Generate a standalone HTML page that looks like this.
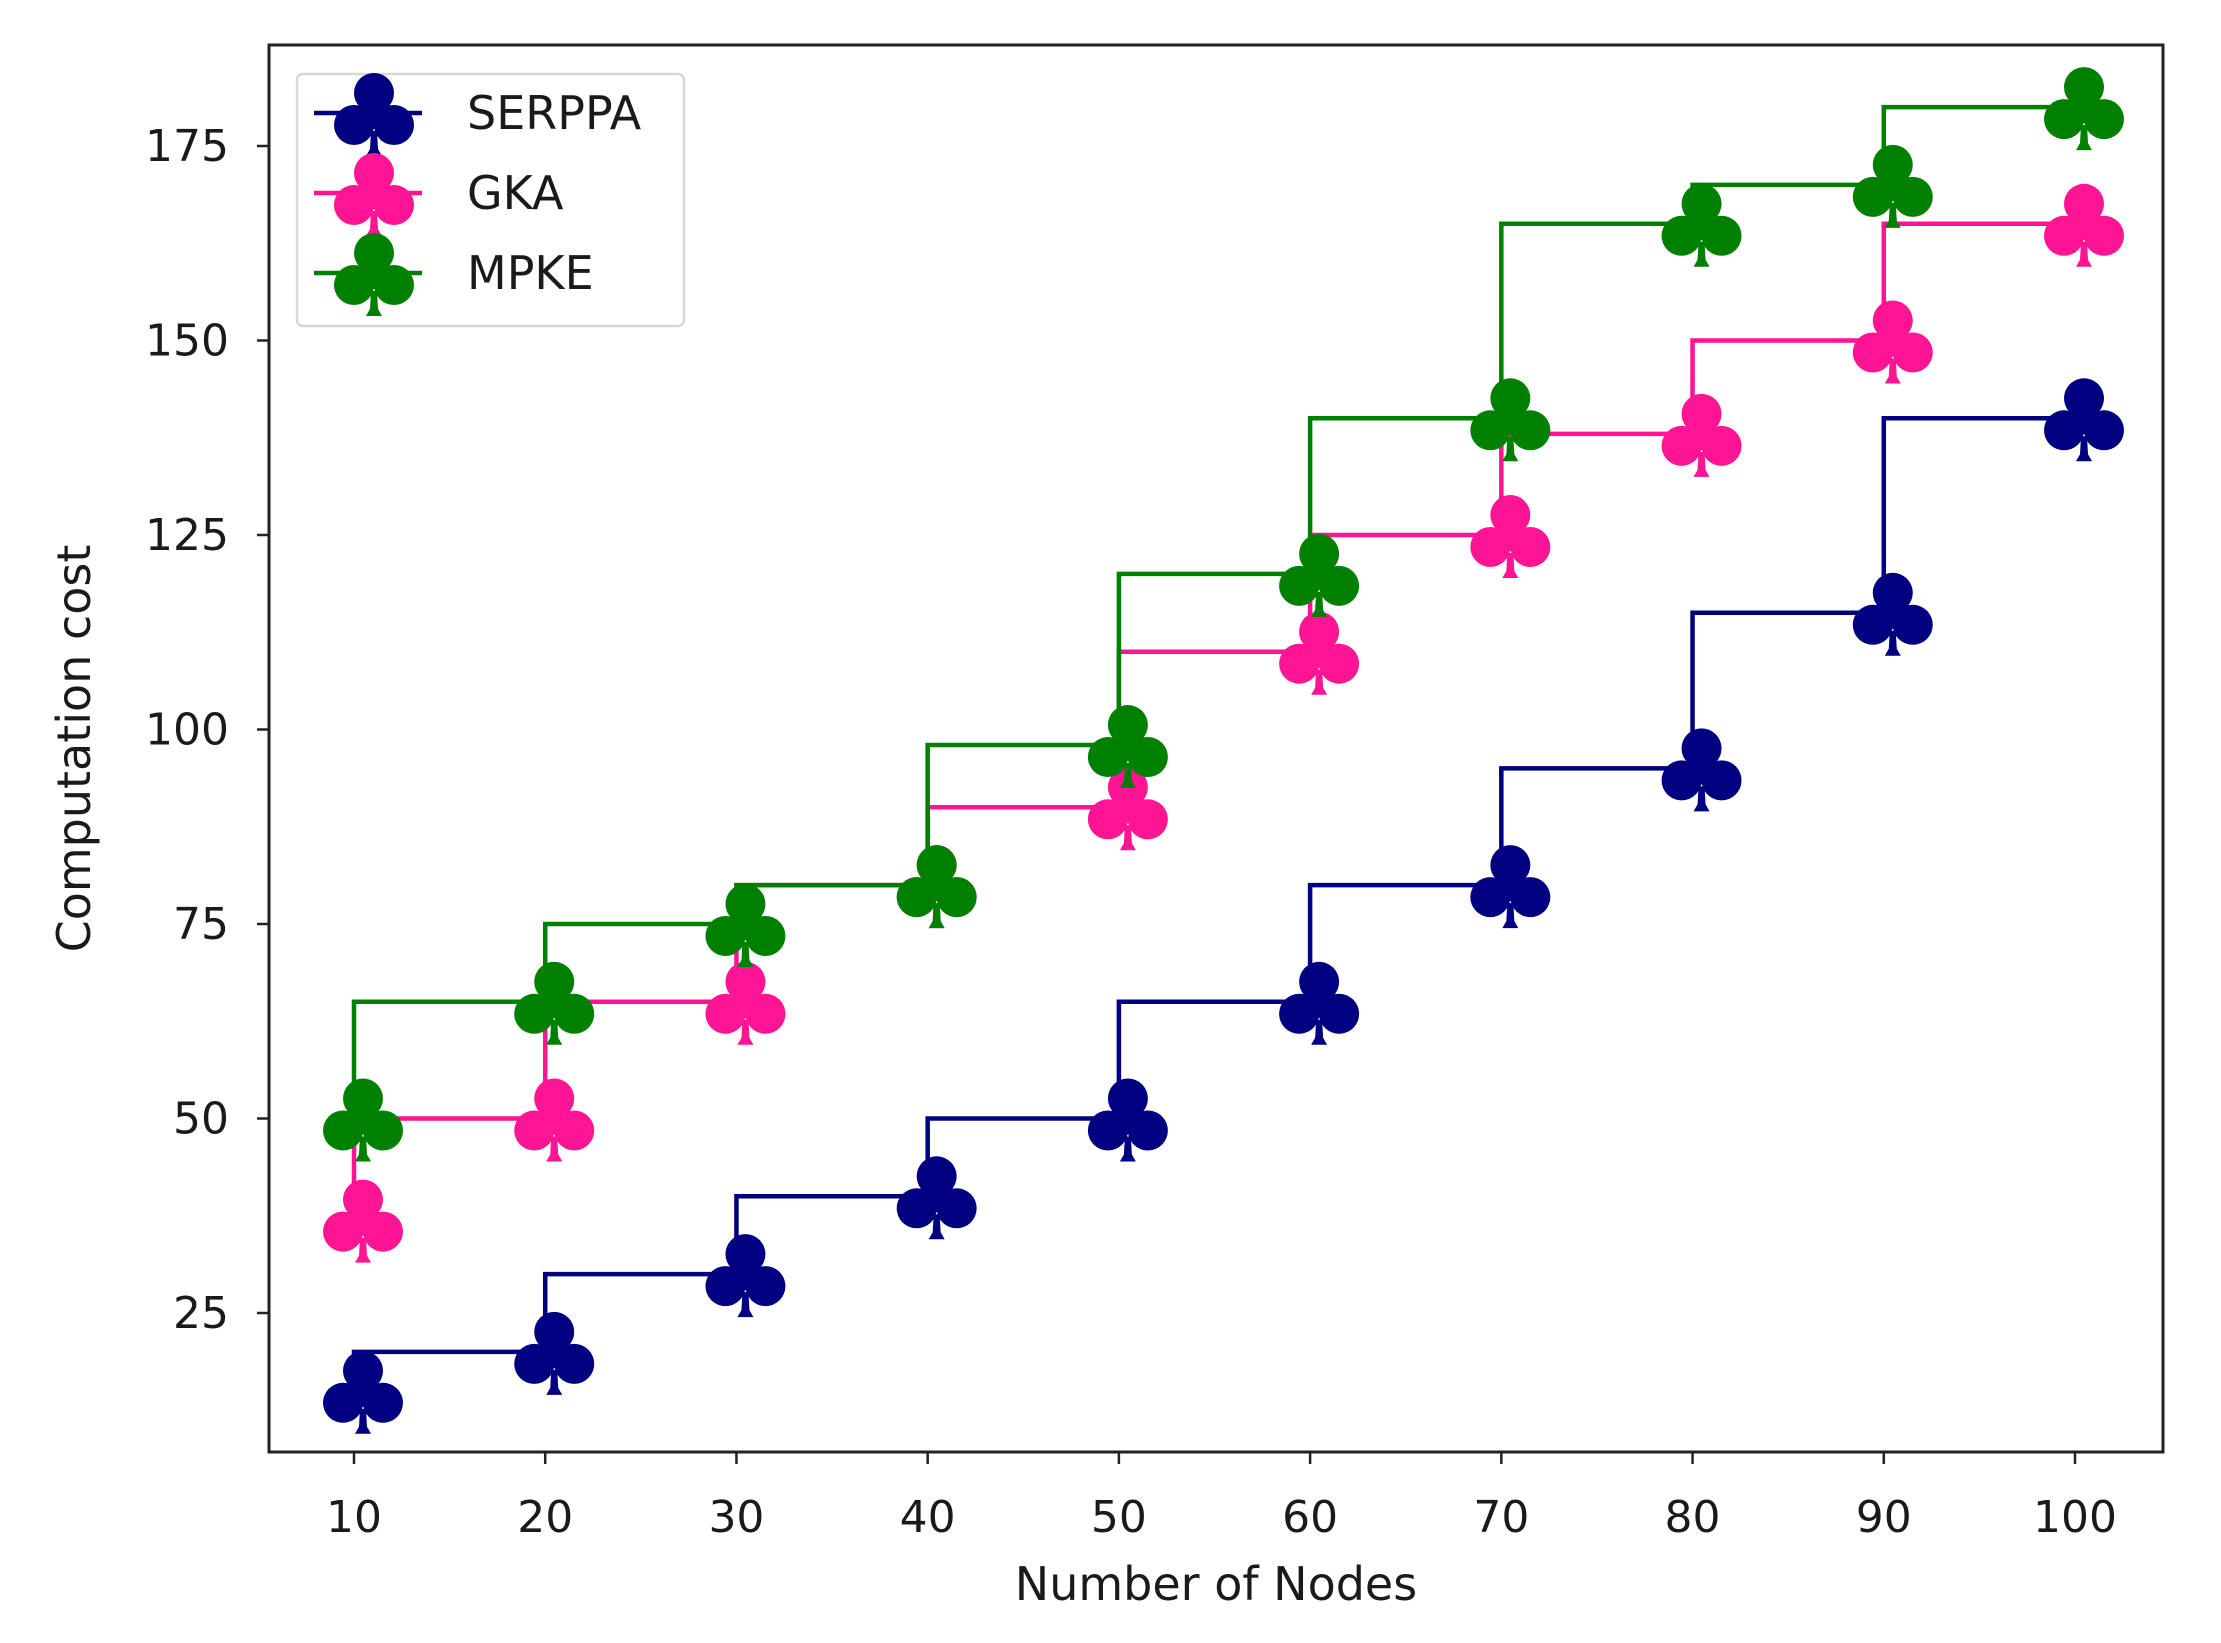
<!DOCTYPE html>
<html><head><meta charset="utf-8"><style>
body{margin:0;background:#fff;}
svg text{font-family:"DejaVu Sans","Liberation Sans",sans-serif;fill:#1a1a1a;}
</style></head><body>
<svg id="chart" width="2221" height="1638" xmlns="http://www.w3.org/2000/svg">
<rect width="2221" height="1638" fill="#fff"/>
<g id="plot"></g>
</svg>
<script>
const xCats = [10,20,30,40,50,60,70,80,90,100];
const serppa = [15,20,30,40,50,65,80,95,115,140];
const gka = [37,50,65,80,90,110,125,138,150,165];
const mpke = [50,65,75,80,98,120,140,165,170,180];
const yTicks = [25,50,75,100,125,150,175];
const seriesNames = ["SERPPA","GKA","MPKE"];
const seriesColors = ["#000080","#ff1493","#008000"];

const L=269,R=2163,T=45,B=1452;
const NS="http://www.w3.org/2000/svg";
function sx(v){return 354+(v-10)*(2075-354)/90;}
function sy(v){return 1313-(v-25)*(1313-146)/150;}
const g=document.getElementById('plot');
function mk(tag,attrs,parent){const e=document.createElementNS(NS,tag);for(const k in attrs)e.setAttribute(k,attrs[k]);(parent||g).appendChild(e);return e;}
function club(parent,cx,cy,color){
  const c=mk('g',{},parent);
  mk('circle',{cx:cx,cy:cy-20,r:20,fill:color},c);
  mk('circle',{cx:cx-20,cy:cy+12,r:20,fill:color},c);
  mk('circle',{cx:cx+20,cy:cy+12,r:20,fill:color},c);
  mk('rect',{x:cx-11,y:cy-8,width:22,height:24,fill:color},c);
  mk('path',{d:`M${cx-3},${cy+18} L${cx+3},${cy+18} L${cx+4},${cy+36} L${cx+8},${cy+43} L${cx-8},${cy+43} L${cx-4},${cy+36} Z`,fill:color},c);
  return c;
}
const frame=mk('rect',{x:L,y:T,width:R-L,height:B-T,fill:'none',stroke:'#222','stroke-width':3});


yTicks.forEach(v=>{
  const t=mk('line',{x1:L-12,x2:L,y1:sy(v),y2:sy(v),stroke:'#222','stroke-width':2.5});
  
  
  const lb=mk('text',{x:L-40,y:sy(v)+15,'font-size':44,'text-anchor':'end'});
  lb.textContent=v;
  
  
});
xCats.forEach(v=>{
  const t=mk('line',{x1:sx(v),x2:sx(v),y1:B,y2:B+12,stroke:'#222','stroke-width':2.5});
  
  
  const lb=mk('text',{x:sx(v),y:B+80,'font-size':44,'text-anchor':'middle'});
  lb.textContent=v;
  
  
});
const xt=mk('text',{x:(L+R)/2,y:1600,'font-size':46,'text-anchor':'middle'});
xt.textContent='Number of Nodes';


const yt=mk('text',{x:0,y:0,'font-size':46,'text-anchor':'middle',transform:`translate(90,${(T+B)/2}) rotate(-90)`});
yt.textContent='Computation cost';


[serppa,gka,mpke].forEach((vals,si)=>{
  const col=seriesColors[si];
  let d=`M${sx(xCats[0])},${sy(vals[0])}`;
  for(let i=1;i<vals.length;i++){d+=` L${sx(xCats[i-1])},${sy(vals[i])} L${sx(xCats[i])},${sy(vals[i])}`;}
  const p=mk('path',{d:d,fill:'none',stroke:col,'stroke-width':4.5});
  
  
  vals.forEach((v,i)=>{
    const m=club(g,sx(xCats[i])+9,sy(v),col);
    
    
  });
});
const lg=mk('g',{});


mk('rect',{x:297,y:74,width:387,height:252,rx:6,fill:'#fff',stroke:'#d8d8d8','stroke-width':2.5},lg);
seriesNames.forEach((n,i)=>{
  const y=113+i*80;
  const e=mk('g',{},lg);
  
  
  mk('line',{x1:314,x2:422,y1:y,y2:y,stroke:seriesColors[i],'stroke-width':4.5},e);
  club(e,374,y,seriesColors[i]);
  const t=mk('text',{x:467,y:y+16,'font-size':46},e);
  t.textContent=n;
});
</script>
</body></html>
